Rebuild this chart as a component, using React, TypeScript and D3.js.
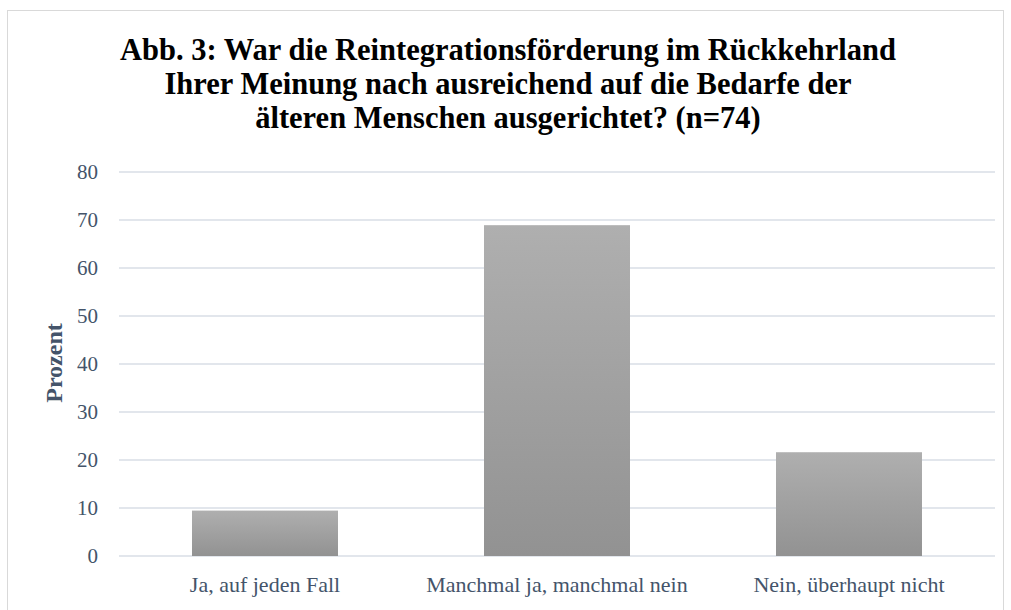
import React from "react";
import * as d3 from "d3";

const categories = ["Ja, auf jeden Fall", "Manchmal ja, manchmal nein", "Nein, überhaupt nicht"];
const values = [9.46, 68.92, 21.62];
const yTicks = [0, 10, 20, 30, 40, 50, 60, 70, 80];
const titleLines = [
  "Abb. 3: War die Reintegrationsförderung im Rückkehrland",
  "Ihrer Meinung nach ausreichend auf die Bedarfe der",
  "älteren Menschen ausgerichtet? (n=74)",
];

export default function App() {
  const W = 1011, H = 610;
  const left = 119, right = 995, top = 172, bottom = 556;
  const x = d3.scaleBand<string>().domain(categories).range([left, right]).paddingInner(0.5).paddingOuter(0.25);
  const y = d3.scaleLinear().domain([0, 80]).range([bottom, top]);
  const font = "'Liberation Serif', 'Times New Roman', serif";
  const tickColor = "#44546a";
  return (
    <svg width={W} height={H} style={{ position: "absolute", left: 0, top: 0 }}>
      <defs>
        <linearGradient id="barGrad" x1="0" y1="0" x2="0" y2="1">
          <stop offset="0%" stopColor="#afafaf" />
          <stop offset="100%" stopColor="#929292" />
        </linearGradient>
      </defs>
      <rect x={0} y={0} width={W} height={H} fill="#fff" />
      <rect x={7.5} y={10.5} width={996} height={620} fill="#fff" stroke="#d9d9d9" strokeWidth={1} />
      {titleLines.map((t, i) => (
        <text key={i} x={508} y={60 + i * 34} textAnchor="middle" fontFamily={font} fontWeight="bold" fontSize={30.5} fill="#000">
          {t}
        </text>
      ))}
      {yTicks.map((t) => (
        <g key={t}>
          <line x1={left} x2={right} y1={y(t)} y2={y(t)} stroke="#d9dee6" strokeWidth={1.5} />
          <text x={98} y={y(t)} dy="0.35em" textAnchor="end" fontFamily={font} fontSize={21} fill={tickColor}>
            {t}
          </text>
        </g>
      ))}
      {categories.map((c, i) => (
        <rect key={c} x={x(c)} y={y(values[i])} width={x.bandwidth()} height={bottom - y(values[i])} fill="url(#barGrad)" />
      ))}
      {categories.map((c) => (
        <text key={c} x={(x(c) as number) + x.bandwidth() / 2} y={592} textAnchor="middle" fontFamily={font} fontSize={22} fill={tickColor}>
          {c}
        </text>
      ))}
      <text transform={`translate(62,363) rotate(-90)`} textAnchor="middle" fontFamily={font} fontWeight="bold" fontSize={24} fill={tickColor}>
        Prozent
      </text>
    </svg>
  );
}
